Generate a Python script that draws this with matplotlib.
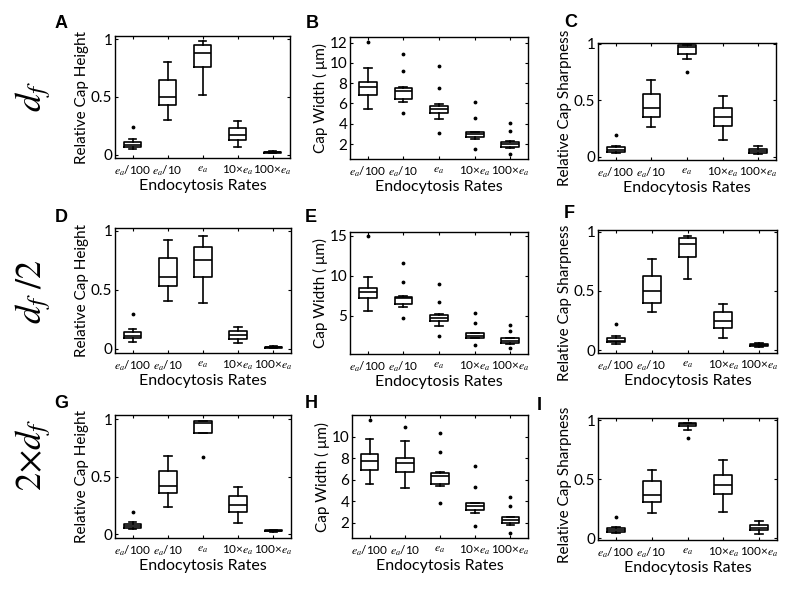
import matplotlib
matplotlib.use("Agg")
import matplotlib.pyplot as plt

plt.rcParams['font.family'] = ['Lato', 'DejaVu Sans']
plt.rcParams['mathtext.fontset'] = 'stix'

categories = [r'$e_a$/100', r'$e_a$/10', r'$e_a$', r'10×$e_a$', r'100×$e_a$']

# each box: (whislo, q1, med, q3, whishi, fliers)
A_stats = [(0.052, 0.069, 0.089, 0.11, 0.135, [0.24]),
           (0.30, 0.43, 0.50, 0.65, 0.80, []),
           (0.52, 0.755, 0.88, 0.95, 0.98, []),
           (0.07, 0.13, 0.17, 0.23, 0.29, []),
           (0.015, 0.02, 0.025, 0.03, 0.035, [])]
B_stats = [(5.45, 6.84, 7.66, 8.15, 9.47, [12.1]),
           (6.18, 6.44, 7.2, 7.55, 7.6, [10.9, 9.25, 5.03]),
           (4.43, 5.03, 5.42, 5.75, 5.9, [9.7, 7.5, 3.05]),
           (2.46, 2.66, 2.99, 3.15, 3.2, [6.1, 4.53, 1.47]),
           (1.57, 1.74, 2.0, 2.23, 2.3, [4.04, 3.32, 1.01])]
C_stats = [(0.035, 0.044, 0.062, 0.088, 0.097, [0.19]),
           (0.26, 0.35, 0.43, 0.55, 0.68, []),
           (0.86, 0.906, 0.97, 0.99, 0.99, [0.75]),
           (0.147, 0.27, 0.35, 0.43, 0.535, []),
           (0.02, 0.035, 0.053, 0.068, 0.094, [])]
D_stats = [(0.062, 0.09, 0.113, 0.14, 0.17, [0.30]),
           (0.41, 0.53, 0.61, 0.77, 0.92, []),
           (0.39, 0.61, 0.75, 0.86, 0.96, []),
           (0.048, 0.085, 0.12, 0.15, 0.19, []),
           (0.008, 0.012, 0.015, 0.018, 0.022, [])]
E_stats = [(5.58, 7.17, 7.92, 8.42, 9.83, [15.0]),
           (6.13, 6.42, 7.17, 7.38, 7.46, [11.55, 9.25, 4.67]),
           (3.7, 4.33, 4.75, 5.08, 5.17, [8.96, 6.67, 2.41]),
           (2.17, 2.25, 2.5, 2.79, 2.88, [5.29, 4.04, 1.33]),
           (1.46, 1.63, 1.88, 2.17, 2.25, [3.83, 3.13, 0.92])]
F_stats = [(0.05, 0.065, 0.079, 0.099, 0.118, [0.22]),
           (0.32, 0.40, 0.50, 0.625, 0.77, []),
           (0.60, 0.79, 0.896, 0.95, 0.966, []),
           (0.104, 0.19, 0.248, 0.318, 0.386, []),
           (0.022, 0.03, 0.042, 0.05, 0.062, [])]
G_stats = [(0.043, 0.052, 0.072, 0.087, 0.107, [0.197]),
           (0.235, 0.357, 0.42, 0.554, 0.68, []),
           (0.884, 0.884, 0.965, 0.988, 0.988, [0.675]),
           (0.096, 0.19, 0.255, 0.333, 0.41, []),
           (0.02, 0.025, 0.03, 0.035, 0.04, [])]
H_stats = [(5.57, 6.9, 7.74, 8.36, 9.75, [11.55]),
           (5.26, 6.74, 7.58, 7.98, 9.6, [10.9]),
           (5.41, 5.6, 6.37, 6.65, 6.74, [10.37, 8.54, 3.8]),
           (2.93, 3.18, 3.55, 3.8, 3.86, [7.3, 5.29, 1.69]),
           (1.78, 2.0, 2.25, 2.5, 2.56, [4.42, 3.58, 1.07])]
I_stats = [(0.042, 0.05, 0.068, 0.085, 0.099, [0.177]),
           (0.217, 0.306, 0.37, 0.487, 0.58, []),
           (0.92, 0.95, 0.97, 0.98, 0.98, [0.85]),
           (0.222, 0.377, 0.456, 0.54, 0.66, []),
           (0.037, 0.068, 0.09, 0.11, 0.146, [])]

rel_ticks = [0, 0.5, 1]
rel_ticklabels = ['0', '0.5', '1']

panels = [
    # letter, stats, ylabel, ylim, yticks, yticklabels, px box (l, r, top, bottom), letter px, ylabel y
    ('A', A_stats, 'Relative Cap Height', (-0.026, 1.026), rel_ticks, rel_ticklabels, (115, 290, 36, 158), (55, 28), 0.5),
    ('B', B_stats, 'Cap Width ( μm)', (0.52, 12.56), [2, 4, 6, 8, 10, 12], ['2', '4', '6', '8', '10', '12'], (350, 528, 37, 159), (306, 28), 0.5),
    ('C', C_stats, 'Relative Cap Sharpness', (-0.03, 1.005), rel_ticks, rel_ticklabels, (598, 776, 43, 160), (564, 27), 0.45),
    ('D', D_stats, 'Relative Cap Height', (-0.034, 1.025), rel_ticks, rel_ticklabels, (115, 291, 228, 353), (55, 222), 0.5),
    ('E', E_stats, 'Cap Width ( μm)', (0.2, 15.46), [5, 10, 15], ['5', '10', '15'], (350, 528, 232, 354), (305, 222), 0.5),
    ('F', F_stats, 'Relative Cap Sharpness', (-0.025, 1.014), rel_ticks, rel_ticklabels, (598, 777, 230, 353), (564, 218), 0.41),
    ('G', G_stats, 'Relative Cap Height', (-0.032, 1.037), rel_ticks, rel_ticklabels, (115, 291, 415, 538), (54, 408), 0.5),
    ('H', H_stats, 'Cap Width ( μm)', (0.58, 12.0), [2, 4, 6, 8, 10], ['2', '4', '6', '8', '10'], (352, 528, 415, 538), (305, 408), 0.5),
    ('I', I_stats, 'Relative Cap Sharpness', (-0.014, 1.02), rel_ticks, rel_ticklabels, (598, 777, 418, 540), (537, 410), 0.45),
]

row_labels = [r'$d_f$', r'$d_f$ /2', r'2×$d_f$']
row_label_pos = [(33, 97), (33, 292), (33, 455)]

W, H = 800, 593
fig = plt.figure(figsize=(W / 100, H / 100), dpi=100)

for letter, stats, ylabel, ylim, yticks, yticklabels, (l, r, t, b), (lx, ly), ly_frac in panels:
    ax = fig.add_axes([l / W, 1 - b / H, (r - l) / W, (b - t) / H])
    bxp_stats = []
    for (lo, q1, med, q3, hi, fl) in stats:
        bxp_stats.append(dict(whislo=lo, q1=q1, med=med, q3=q3, whishi=hi, fliers=fl))
    ax.bxp(bxp_stats, positions=range(1, 6), widths=0.5, capwidths=0.22,
           boxprops=dict(color='black', linewidth=1.2),
           whiskerprops=dict(color='black', linewidth=1.2),
           capprops=dict(color='black', linewidth=1.2),
           medianprops=dict(color='black', linewidth=1.2),
           flierprops=dict(marker='.', markersize=3.5, markerfacecolor='black',
                           markeredgecolor='black', linestyle='none'))
    ax.set_xlim(0.5, 5.5)
    ax.set_ylim(*ylim)
    ax.set_xticks(range(1, 6))
    ax.set_xticklabels(categories, fontsize=8.5)
    ax.set_yticks(yticks)
    ax.set_yticklabels(yticklabels, fontsize=11)
    ax.tick_params(direction='in', top=True, right=True, length=2.5, width=0.8, pad=2)
    ax.tick_params(axis='x', pad=4)
    for s in ax.spines.values():
        s.set_linewidth(1.0)
    ax.set_xlabel('Endocytosis Rates', fontsize=11.5, labelpad=1)
    ax.set_ylabel(ylabel, fontsize=11, labelpad=1)
    ax.yaxis.label.set_y(ly_frac)
    fig.text(lx / W, 1 - ly / H, letter, fontsize=13, fontweight='bold',
             family=['Liberation Sans', 'DejaVu Sans'], ha='left', va='baseline')

for txt, (x, y) in zip(row_labels, row_label_pos):
    fig.text(x / W, 1 - y / H, txt, fontsize=26, rotation=90, ha='center', va='center',
             family='STIXGeneral')

fig.savefig('out.png', dpi=100)
